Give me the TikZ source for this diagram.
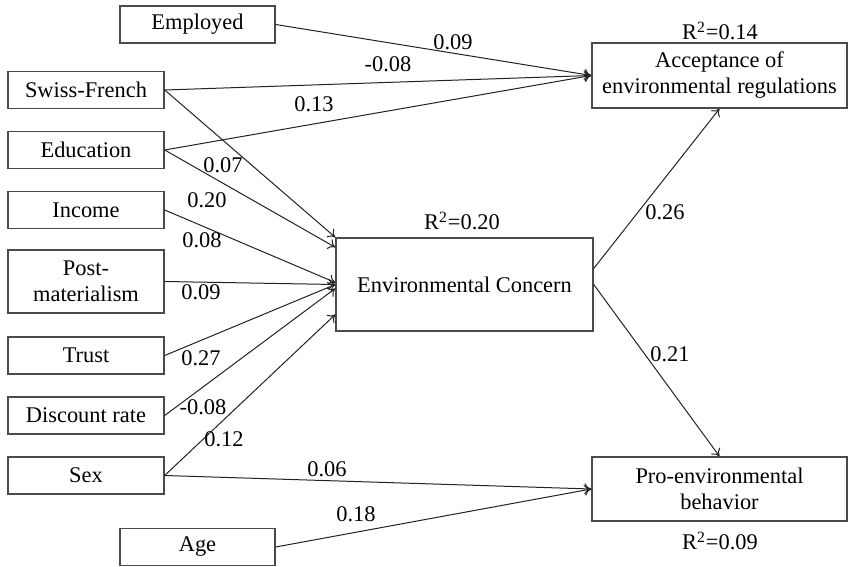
\documentclass[tikz,border=0pt]{standalone}
\usepackage{fontspec}
\setmainfont{Liberation Serif}
\usetikzlibrary{arrows.meta}
\definecolor{box-line}{HTML}{4A4A4A}
\definecolor{path-line}{HTML}{222222}
\newlength{\basisdiagram}
\setlength{\basisdiagram}{0.5pt}

\tikzset{
  varbox/.style={draw=box-line, line width=1.4\basisdiagram, inner sep=0pt, align=center,
    minimum width=156\basisdiagram, minimum height=37\basisdiagram,
    font=\fontsize{11.2}{13}\selectfont},
  effect/.style={-{To[length=3.5pt,width=5.5pt]}, draw=path-line, line width=1\basisdiagram},
  coef/.style={inner sep=0pt, anchor=base, font=\fontsize{11.2}{13}\selectfont},
}

\begin{document}
\begin{tikzpicture}
    \useasboundingbox (0,0) rectangle (848\basisdiagram,-567\basisdiagram);

    % exogenous variables
    \draw (197.5\basisdiagram,-24.5\basisdiagram)
		node[varbox, minimum width=155\basisdiagram] (employed) {Employed};
    \draw (86\basisdiagram,-90\basisdiagram)
		node[varbox] (swiss) {Swiss-French};
    \draw (86\basisdiagram,-150\basisdiagram)
		node[varbox] (education) {Education};
    \draw (86\basisdiagram,-210\basisdiagram)
		node[varbox] (income) {Income};
    \draw (86\basisdiagram,-281.5\basisdiagram)
		node[varbox, minimum height=63\basisdiagram] (postmat) {Post-\\materialism};
    \draw (86\basisdiagram,-355.5\basisdiagram)
		node[varbox] (trust) {Trust};
    \draw (86\basisdiagram,-415.5\basisdiagram)
		node[varbox] (discount) {Discount rate};
    \draw (86\basisdiagram,-475.5\basisdiagram)
		node[varbox] (sex) {Sex};
    \draw (197.5\basisdiagram,-547\basisdiagram)
		node[varbox, minimum width=155\basisdiagram] (age) {Age};

    % endogenous variables
    \draw (464.5\basisdiagram,-284.5\basisdiagram)
		node[varbox, minimum width=257\basisdiagram, minimum height=93\basisdiagram] (concern) {Environmental Concern};
    \draw (719.5\basisdiagram,-75.5\basisdiagram)
		node[varbox, minimum width=255\basisdiagram, minimum height=65\basisdiagram] (acceptance) {Acceptance of\\environmental regulations};
    \draw (719.5\basisdiagram,-489\basisdiagram)
		node[varbox, minimum width=255\basisdiagram, minimum height=64\basisdiagram] (proenv) {Pro-environmental\\behavior};

    % explained variance
    \draw (720\basisdiagram,-40\basisdiagram) node[coef] (r2-acceptance) {R\textsuperscript{2}=0.14};
    \draw (462\basisdiagram,-230\basisdiagram) node[coef] (r2-concern) {R\textsuperscript{2}=0.20};
    \draw (720\basisdiagram,-550\basisdiagram) node[coef] (r2-proenv) {R\textsuperscript{2}=0.09};

    % paths
    \draw[effect] (employed.east) -- (acceptance.west);
    \draw[effect] (swiss.east) -- (acceptance.west);
    \draw[effect] (education.east) -- (acceptance.west);
    \draw[effect] (swiss.east) -- (concern.north west);
    \draw[effect] (education.east) -- ([yshift=-10\basisdiagram]concern.north west);
    \draw[effect] (income.east) -- ([yshift=2\basisdiagram]concern.west);
    \draw[effect] (postmat.east) -- (concern.west);
    \draw[effect] (trust.east) -- (concern.west);
    \draw[effect] (discount.east) -- ([yshift=-4\basisdiagram]concern.west);
    \draw[effect] (sex.east) -- ([yshift=-30\basisdiagram]concern.west);
    \draw[effect] (sex.east) -- (proenv.west);
    \draw[effect] (age.east) -- (proenv.west);
    \draw[effect] ([yshift=16\basisdiagram]concern.east) -- (acceptance.south);
    \draw[effect] (concern.east) -- (proenv.north);

    % coefficients
    \draw (453\basisdiagram,-50\basisdiagram) node[coef] (c-employed) {0.09};
    \draw (388\basisdiagram,-72\basisdiagram) node[coef] (c-swiss-acc) {-0.08};
    \draw (314\basisdiagram,-112\basisdiagram) node[coef] (c-education-acc) {0.13};
    \draw (223\basisdiagram,-173\basisdiagram) node[coef] (c-swiss-ec) {0.07};
    \draw (207\basisdiagram,-208\basisdiagram) node[coef] (c-education-ec) {0.20};
    \draw (202\basisdiagram,-248\basisdiagram) node[coef] (c-income) {0.08};
    \draw (201\basisdiagram,-300\basisdiagram) node[coef] (c-postmat) {0.09};
    \draw (201\basisdiagram,-365\basisdiagram) node[coef] (c-trust) {0.27};
    \draw (203\basisdiagram,-415\basisdiagram) node[coef] (c-discount) {-0.08};
    \draw (224\basisdiagram,-447\basisdiagram) node[coef] (c-sex-ec) {0.12};
    \draw (327\basisdiagram,-477\basisdiagram) node[coef] (c-sex-pe) {0.06};
    \draw (356\basisdiagram,-522\basisdiagram) node[coef] (c-age) {0.18};
    \draw (665\basisdiagram,-220\basisdiagram) node[coef] (c-ec-acc) {0.26};
    \draw (670\basisdiagram,-362\basisdiagram) node[coef] (c-ec-pe) {0.21};
\end{tikzpicture}
\end{document}
